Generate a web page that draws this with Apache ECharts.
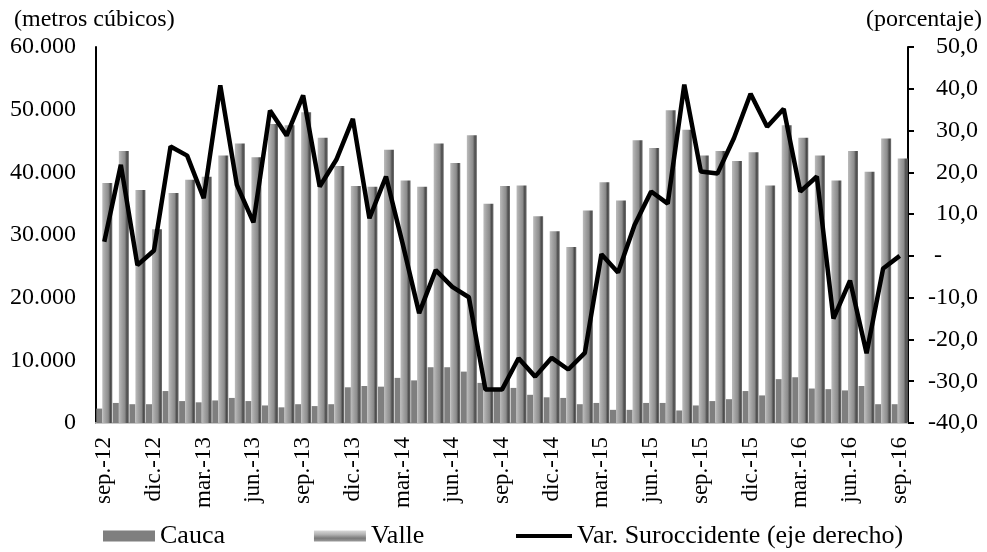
<!DOCTYPE html>
<html>
<head>
<meta charset="utf-8">
<script src="https://cdn.jsdelivr.net/npm/echarts@6/dist/echarts.min.js"></script>
<style>
html, body { margin: 0; padding: 0; background: #fff; }
#chart { width: 987px; height: 552px; }
</style>
</head>
<body>
<div id="chart"></div>
<script>
var meses = [
  'sep.-12','oct.-12','nov.-12','dic.-12','ene.-13','feb.-13','mar.-13','abr.-13','may.-13','jun.-13','jul.-13','ago.-13',
  'sep.-13','oct.-13','nov.-13','dic.-13','ene.-14','feb.-14','mar.-14','abr.-14','may.-14','jun.-14','jul.-14','ago.-14',
  'sep.-14','oct.-14','nov.-14','dic.-14','ene.-15','feb.-15','mar.-15','abr.-15','may.-15','jun.-15','jul.-15','ago.-15',
  'sep.-15','oct.-15','nov.-15','dic.-15','ene.-16','feb.-16','mar.-16','abr.-16','may.-16','jun.-16','jul.-16','ago.-16',
  'sep.-16'
];

// metros cubicos
var cauca = [
  2300, 3200, 3000, 3000, 5100, 3500, 3300, 3600, 4000, 3500, 2800, 2500,
  3000, 2700, 3000, 5700, 5900, 5800, 7200, 6800, 8900, 8900, 8200, 6400,
  5300, 5600, 4500, 4100, 4000, 3000, 3200, 2100, 2100, 3200, 3200, 2000,
  2800, 3500, 3800, 5100, 4400, 7000, 7300, 5500, 5400, 5200, 5900, 3000,
  3000, 3500
];
var valle = [
  38300, 43400, 37200, 30900, 36700, 38800, 39300, 42700, 44600, 42400, 47700, 47500,
  49600, 45500, 41000, 37800, 37700, 43600, 38700, 37700, 44600, 41500, 45900, 35000,
  37800, 37900, 33000, 30600, 28100, 33900, 38400, 35500, 45100, 43900, 49900, 46800,
  42700, 43400, 41800, 43200, 37900, 47500, 45500, 42700, 38700, 43400, 40100, 45400,
  42200
];
// variacion anual (%)
var varSuroccidente = [
  3.4, 21.8, -2.2, 1.3, 26.2, 24.0, 13.8, 40.8, 17.0, 8.0, 34.8, 28.8,
  38.4, 16.6, 23.0, 32.8, 9.0, 19.0, 3.0, -13.7, -3.4, -7.4, -9.9, -32.0,
  -32.0, -24.5, -28.9, -24.4, -27.2, -23.2, 0.4, -4.0, 7.4, 15.4, 12.5, 41.0,
  20.2, 19.7, 28.2, 38.8, 30.9, 35.2, 15.4, 19.0, -15.0, -5.9, -23.3, -3.0,
  0.0
];

var fuente = 'Liberation Serif';

var valleColor = new echarts.graphic.LinearGradient(0, 0, 1, 0, [
  { offset: 0, color: '#bcbcbc' },
  { offset: 0.3, color: '#a2a2a2' },
  { offset: 0.6, color: '#8c8c8c' },
  { offset: 0.82, color: '#4a4a4a' },
  { offset: 1, color: '#747474' }
]);
var valleLeyenda = new echarts.graphic.LinearGradient(0, 0, 0, 1, [
  { offset: 0, color: '#d8d8d8' },
  { offset: 0.35, color: '#b4b4b4' },
  { offset: 0.7, color: '#7a7a7a' },
  { offset: 1, color: '#9a9a9a' }
]);

var myChart = echarts.init(document.getElementById('chart'));
var option = {
  backgroundColor: '#ffffff',
  animation: false,
  textStyle: { fontFamily: fuente },
  grid: { left: 96, right: 79, top: 47, bottom: 129 },
  graphic: [
    { type: 'text', left: 14, top: 8, style: { text: '(metros cúbicos)', font: '24px ' + fuente, fill: '#000' } },
    { type: 'text', right: 5, top: 8, style: { text: '(porcentaje)', font: '24px ' + fuente, fill: '#000' } }
  ],
  legend: [
    {
      left: 103,
      top: 523,
      itemWidth: 52,
      itemHeight: 11,
      itemGap: 89,
      padding: 0,
      textStyle: { fontFamily: fuente, fontSize: 26, color: '#000' },
      data: [
        { name: 'Cauca', icon: 'rect' },
        { name: 'Valle', icon: 'rect', itemStyle: { color: valleLeyenda } }
      ]
    },
    {
      left: 516,
      top: 523,
      itemWidth: 56,
      itemHeight: 4,
      padding: 0,
      textStyle: { fontFamily: fuente, fontSize: 26, color: '#000' },
      data: [
        { name: 'Var. Suroccidente (eje derecho)', icon: 'rect', itemStyle: { color: '#000' } }
      ]
    }
  ],
  xAxis: {
    type: 'category',
    data: meses,
    axisLine: { lineStyle: { color: '#c8c8c8', width: 2 } },
    axisTick: { show: false },
    axisLabel: {
      interval: 2,
      rotate: 90,
      margin: 14,
      fontFamily: fuente,
      fontSize: 23,
      color: '#000'
    }
  },
  yAxis: [
    {
      type: 'value',
      min: 0,
      max: 60000,
      interval: 10000,
      splitLine: { show: false },
      axisLine: { show: true, lineStyle: { color: '#000', width: 2 } },
      axisTick: { show: false },
      axisLabel: {
        margin: 20,
        fontFamily: fuente,
        fontSize: 24,
        color: '#000',
        formatter: function (v) {
          return v === 0 ? '0' : (v / 1000).toFixed(0) + '.000';
        }
      }
    },
    {
      type: 'value',
      min: -40,
      max: 50,
      interval: 10,
      position: 'right',
      splitLine: { show: false },
      axisLine: { show: true, lineStyle: { color: '#000', width: 2 } },
      axisTick: { show: true, inside: false, length: 6, lineStyle: { color: '#000', width: 2 } },
      axisLabel: {
        margin: 70,
        align: 'right',
        fontFamily: fuente,
        fontSize: 24,
        color: '#000',
        formatter: function (v) {
          if (v === 0) return '-      ';
          return v.toFixed(1).replace('.', ',');
        }
      }
    }
  ],
  series: [
    {
      name: 'Cauca',
      type: 'bar',
      yAxisIndex: 0,
      barWidth: 6,
      barGap: '0%',
      itemStyle: { color: '#7f7f7f' },
      data: cauca
    },
    {
      name: 'Valle',
      type: 'bar',
      yAxisIndex: 0,
      barWidth: 10,
      itemStyle: { color: valleColor },
      data: valle
    },
    {
      name: 'Var. Suroccidente (eje derecho)',
      type: 'line',
      yAxisIndex: 1,
      symbol: 'none',
      lineStyle: { color: '#000', width: 4.5 },
      itemStyle: { color: '#000' },
      data: varSuroccidente
    }
  ]
};
myChart.setOption(option);
</script>
</body>
</html>
